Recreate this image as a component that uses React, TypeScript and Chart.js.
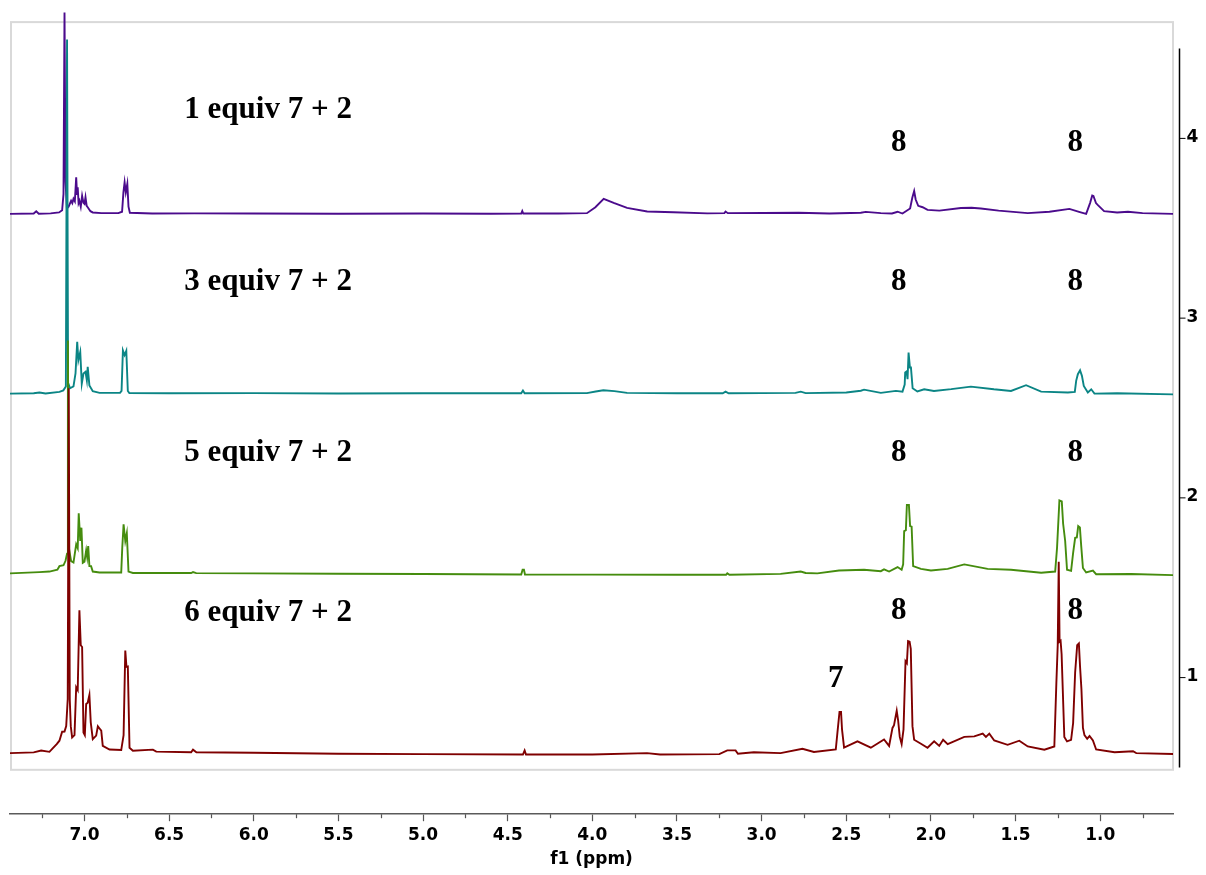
import { useEffect, useRef } from 'react';
import { Chart, registerables } from 'chart.js';

Chart.register(...registerables);

// ---- Data (ppm, intensity above each trace's own baseline) ----
const X_MIN = 0.57;
const X_MAX = 7.44;
const X_MAJOR_TICKS = [7.0, 6.5, 6.0, 5.5, 5.0, 4.5, 4.0, 3.5, 3.0, 2.5, 2.0, 1.5, 1.0];
const X_MINOR_TICKS = [7.25, 6.75, 6.25, 5.75, 5.25, 4.75, 4.25, 3.75, 3.25, 2.75, 2.25, 1.75, 1.25, 0.75];
const Y_MIN = 0.24;
const Y_MAX = 4.77;
const RIGHT_TICKS = [1, 2, 3, 4];
const RIGHT_AXIS_RANGE = [0.5, 4.5];
const FRAME_RANGE = [0.487, 4.647];

const SERIES_NAMES = ['6 equiv 7 + 2', '5 equiv 7 + 2', '3 equiv 7 + 2', '1 equiv 7 + 2'];
const SERIES_OFFSETS = [0.58, 1.57, 2.58, 3.58];

const SPEC_6EQ: [number, number][] = [
  [7.44, 0.0], [7.3, 0.004], [7.256, 0.014], [7.207, 0.007], [7.188, 0.026], [7.164, 0.05],
  [7.148, 0.069], [7.132, 0.119], [7.118, 0.12], [7.108, 0.15], [7.099, 0.3], [7.093, 2.03],
  [7.087, 0.3], [7.081, 0.15], [7.073, 0.087], [7.059, 0.1], [7.049, 0.366], [7.04, 0.35],
  [7.03, 0.795], [7.022, 0.6], [7.014, 0.59], [7.006, 0.115], [6.998, 0.1], [6.99, 0.273],
  [6.981, 0.28], [6.971, 0.323], [6.963, 0.171], [6.951, 0.078], [6.931, 0.097], [6.921, 0.149],
  [6.911, 0.137], [6.901, 0.125], [6.892, 0.04], [6.852, 0.02], [6.783, 0.017], [6.769, 0.1],
  [6.759, 0.571], [6.752, 0.48], [6.744, 0.482], [6.734, 0.03], [6.714, 0.013], [6.596, 0.019],
  [6.576, 0.008], [6.37, 0.005], [6.359, 0.019], [6.339, 0.005], [6.0, 0.002], [5.5, -0.004],
  [5.0, -0.006], [4.41, -0.008], [4.4, 0.015], [4.392, -0.008], [4.0, -0.008], [3.677, 0.0],
  [3.6, -0.008], [3.25, -0.006], [3.203, 0.015], [3.154, 0.015], [3.14, -0.004], [3.046, 0.005],
  [2.888, 0.0], [2.759, 0.024], [2.691, 0.006], [2.562, 0.02], [2.552, 0.117], [2.54, 0.229],
  [2.531, 0.229], [2.525, 0.13], [2.513, 0.03], [2.434, 0.065], [2.355, 0.03], [2.277, 0.076],
  [2.247, 0.04], [2.227, 0.14], [2.218, 0.155], [2.202, 0.235], [2.194, 0.184], [2.184, 0.09],
  [2.173, 0.05], [2.162, 0.13], [2.15, 0.511], [2.142, 0.5], [2.135, 0.623], [2.126, 0.62],
  [2.119, 0.58], [2.109, 0.15], [2.099, 0.074], [2.059, 0.052], [2.02, 0.03], [1.981, 0.065],
  [1.951, 0.04], [1.928, 0.074], [1.901, 0.05], [1.803, 0.09], [1.744, 0.093], [1.694, 0.108],
  [1.675, 0.09], [1.655, 0.108], [1.626, 0.07], [1.547, 0.046], [1.478, 0.069], [1.428, 0.037],
  [1.33, 0.019], [1.271, 0.037], [1.259, 0.39], [1.251, 0.6], [1.245, 1.065], [1.24, 0.62],
  [1.234, 0.625], [1.228, 0.55], [1.212, 0.09], [1.196, 0.065], [1.172, 0.074], [1.16, 0.167],
  [1.148, 0.45], [1.136, 0.6], [1.126, 0.61], [1.119, 0.48], [1.111, 0.358], [1.102, 0.14],
  [1.093, 0.1], [1.077, 0.08], [1.063, 0.095], [1.043, 0.07], [1.024, 0.02], [0.915, 0.005],
  [0.806, 0.01], [0.787, 0.0], [0.57, -0.005],
];

const SPEC_5EQ: [number, number][] = [
  [7.44, 0.01], [7.266, 0.017], [7.207, 0.02], [7.16, 0.03], [7.148, 0.05], [7.124, 0.055],
  [7.112, 0.08], [7.103, 0.12], [7.098, 1.305], [7.092, 0.15], [7.079, 0.078], [7.065, 0.07],
  [7.049, 0.171], [7.04, 0.15], [7.034, 0.344], [7.025, 0.19], [7.018, 0.264], [7.01, 0.069],
  [7.0, 0.075], [6.99, 0.138], [6.984, 0.1], [6.978, 0.162], [6.971, 0.05], [6.961, 0.05],
  [6.951, 0.02], [6.911, 0.015], [6.783, 0.015], [6.777, 0.15], [6.769, 0.283], [6.759, 0.19],
  [6.75, 0.233], [6.74, 0.02], [6.714, 0.012], [6.37, 0.012], [6.359, 0.017], [6.34, 0.011],
  [6.0, 0.01], [5.5, 0.008], [5.0, 0.006], [4.42, 0.004], [4.412, 0.03], [4.404, 0.03],
  [4.398, 0.004], [4.0, 0.003], [3.5, 0.002], [3.21, 0.002], [3.203, 0.01], [3.19, 0.002],
  [2.888, 0.007], [2.769, 0.02], [2.74, 0.012], [2.671, 0.01], [2.543, 0.026], [2.395, 0.03],
  [2.296, 0.022], [2.277, 0.032], [2.247, 0.02], [2.197, 0.045], [2.173, 0.03], [2.164, 0.06],
  [2.158, 0.245], [2.148, 0.25], [2.142, 0.39], [2.13, 0.39], [2.123, 0.273], [2.114, 0.27],
  [2.105, 0.05], [2.059, 0.035], [2.0, 0.026], [1.901, 0.035], [1.803, 0.06], [1.665, 0.035],
  [1.527, 0.03], [1.349, 0.013], [1.266, 0.02], [1.255, 0.152], [1.241, 0.416], [1.227, 0.41],
  [1.219, 0.286], [1.207, 0.19], [1.196, 0.03], [1.172, 0.024], [1.16, 0.124], [1.148, 0.208],
  [1.138, 0.21], [1.13, 0.273], [1.12, 0.265], [1.112, 0.16], [1.102, 0.04], [1.083, 0.015],
  [1.043, 0.025], [1.024, 0.005], [0.817, 0.006], [0.57, 0.0],
];

const SPEC_3EQ: [number, number][] = [
  [7.44, 0.0], [7.3, 0.002], [7.266, 0.006], [7.23, 0.001], [7.148, 0.01], [7.125, 0.018],
  [7.11, 0.04], [7.103, 1.97], [7.097, 0.06], [7.085, 0.03], [7.065, 0.04], [7.053, 0.112],
  [7.043, 0.288], [7.036, 0.186], [7.025, 0.232], [7.016, 0.056], [7.006, 0.112], [6.994, 0.121],
  [6.986, 0.074], [6.981, 0.149], [6.971, 0.046], [6.951, 0.013], [6.911, 0.004], [6.79, 0.004],
  [6.781, 0.015], [6.773, 0.24], [6.763, 0.214], [6.753, 0.238], [6.744, 0.015], [6.735, 0.003],
  [6.5, 0.002], [6.0, 0.003], [5.5, 0.001], [5.0, 0.002], [4.42, 0.002], [4.41, 0.017],
  [4.4, 0.002], [4.032, 0.003], [3.98, 0.012], [3.935, 0.019], [3.87, 0.014], [3.795, 0.004],
  [3.5, 0.002], [3.23, 0.002], [3.213, 0.011], [3.195, 0.002], [2.8, 0.004], [2.769, 0.011],
  [2.74, 0.003], [2.5, 0.006], [2.414, 0.016], [2.395, 0.022], [2.296, 0.004], [2.207, 0.015],
  [2.168, 0.011], [2.155, 0.05], [2.152, 0.117], [2.144, 0.123], [2.138, 0.08], [2.132, 0.229],
  [2.124, 0.145], [2.118, 0.145], [2.108, 0.03], [2.08, 0.012], [2.04, 0.024], [1.982, 0.015],
  [1.88, 0.025], [1.764, 0.039], [1.628, 0.024], [1.527, 0.015], [1.438, 0.047], [1.349, 0.011],
  [1.191, 0.006], [1.15, 0.01], [1.142, 0.071], [1.132, 0.108], [1.119, 0.13], [1.108, 0.099],
  [1.097, 0.043], [1.073, 0.006], [1.053, 0.024], [1.034, 0.0], [0.9, 0.002], [0.57, -0.004],
];

const SPEC_1EQ: [number, number][] = [
  [7.44, 0.0], [7.3, 0.002], [7.285, 0.014], [7.27, 0.001], [7.2, 0.003], [7.15, 0.008],
  [7.132, 0.02], [7.124, 0.11], [7.118, 1.12], [7.112, 0.18], [7.104, 0.03], [7.094, 0.04],
  [7.079, 0.073], [7.072, 0.06], [7.065, 0.084], [7.057, 0.07], [7.049, 0.204], [7.044, 0.11],
  [7.04, 0.148], [7.035, 0.06], [7.03, 0.073], [7.022, 0.04], [7.014, 0.1], [7.006, 0.061],
  [7.0, 0.055], [6.994, 0.093], [6.987, 0.045], [6.981, 0.037], [6.965, 0.015], [6.951, 0.008],
  [6.9, 0.004], [6.8, 0.004], [6.778, 0.012], [6.77, 0.12], [6.763, 0.176], [6.756, 0.12],
  [6.747, 0.167], [6.74, 0.04], [6.732, 0.006], [6.6, 0.002], [6.35, 0.003], [6.0, 0.002],
  [5.5, 0.001], [5.0, 0.002], [4.6, 0.001], [4.42, 0.002], [4.414, 0.016], [4.408, 0.002],
  [4.2, 0.002], [4.032, 0.004], [3.982, 0.037], [3.933, 0.084], [3.874, 0.061], [3.795, 0.033],
  [3.676, 0.013], [3.521, 0.009], [3.321, 0.003], [3.22, 0.004], [3.213, 0.013], [3.2, 0.004],
  [2.781, 0.006], [2.6, 0.002], [2.414, 0.006], [2.385, 0.011], [2.296, 0.004], [2.23, 0.002],
  [2.197, 0.012], [2.168, 0.002], [2.123, 0.03], [2.11, 0.09], [2.099, 0.127], [2.09, 0.08],
  [2.075, 0.045], [2.049, 0.037], [2.02, 0.022], [1.95, 0.018], [1.823, 0.033], [1.76, 0.034],
  [1.705, 0.03], [1.6, 0.018], [1.428, 0.004], [1.3, 0.012], [1.182, 0.028], [1.12, 0.01],
  [1.083, 0.0], [1.06, 0.06], [1.047, 0.102], [1.04, 0.1], [1.025, 0.06], [1.012, 0.047],
  [0.977, 0.015], [0.9, 0.008], [0.836, 0.012], [0.75, 0.004], [0.57, 0.0],
];

const SERIES_DATA = [SPEC_6EQ, SPEC_5EQ, SPEC_3EQ, SPEC_1EQ];
const SERIES_COLORS = ['#7f0000', '#458c0e', '#0b8585', '#4b0b8c'];

// Annotation texts (ppm, axis value)
const TITLE_LABEL_PPM = 6.41;
const TITLE_LABEL_Y = [1.357, 2.249, 3.203, 4.157];
const PEAK_LABELS: { text: string; ppm: number; y: number }[] = [
  { text: '8', ppm: 2.19, y: 3.972 },
  { text: '8', ppm: 1.148, y: 3.972 },
  { text: '8', ppm: 2.19, y: 3.203 },
  { text: '8', ppm: 1.148, y: 3.203 },
  { text: '8', ppm: 2.19, y: 2.249 },
  { text: '8', ppm: 1.148, y: 2.249 },
  { text: '8', ppm: 2.19, y: 1.368 },
  { text: '8', ppm: 1.148, y: 1.368 },
  { text: '7', ppm: 2.562, y: 0.994 },
];

const AXIS_FONT = '"DejaVu Sans", Verdana, sans-serif';
const LABEL_FONT = '"Liberation Serif", "Times New Roman", serif';

const framePlugin = {
  id: 'frame',
  beforeDatasetsDraw(chart: any) {
    const { ctx, chartArea, scales } = chart;
    const y = scales.y;
    const top = y.getPixelForValue(FRAME_RANGE[1]);
    const bottom = y.getPixelForValue(FRAME_RANGE[0]);
    ctx.save();
    ctx.strokeStyle = '#d9d9d9';
    ctx.lineWidth = 2;
    ctx.strokeRect(chartArea.left + 1, top, chartArea.right - chartArea.left - 1, bottom - top);
    ctx.restore();
  },
};

const annotationPlugin = {
  id: 'annotations',
  afterDatasetsDraw(chart: any) {
    const { ctx, scales } = chart;
    const { x, y } = scales;
    ctx.save();
    ctx.fillStyle = '#000';
    ctx.font = `bold 31px ${LABEL_FONT}`;
    ctx.textBaseline = 'middle';
    ctx.textAlign = 'left';
    SERIES_NAMES.forEach((name, i) => {
      ctx.fillText(name, x.getPixelForValue(TITLE_LABEL_PPM), y.getPixelForValue(TITLE_LABEL_Y[i]));
    });
    ctx.textAlign = 'center';
    PEAK_LABELS.forEach((l) => {
      ctx.fillText(l.text, x.getPixelForValue(l.ppm), y.getPixelForValue(l.y));
    });
    ctx.restore();
  },
};

const axesPlugin = {
  id: 'extraAxes',
  afterDraw(chart: any) {
    const { ctx, chartArea, scales } = chart;
    const { x, y } = scales;
    ctx.save();
    // minor ticks on the ppm axis
    ctx.strokeStyle = '#555';
    ctx.lineWidth = 1.2;
    X_MINOR_TICKS.forEach((v) => {
      const px = Math.round(x.getPixelForValue(v)) + 0.5;
      ctx.beginPath();
      ctx.moveTo(px, chartArea.bottom);
      ctx.lineTo(px, chartArea.bottom + 4);
      ctx.stroke();
    });
    // right intensity axis
    const ax = chartArea.right + 6.5;
    ctx.strokeStyle = '#000';
    ctx.lineWidth = 1.5;
    ctx.beginPath();
    ctx.moveTo(ax, y.getPixelForValue(RIGHT_AXIS_RANGE[1]));
    ctx.lineTo(ax, y.getPixelForValue(RIGHT_AXIS_RANGE[0]));
    ctx.stroke();
    ctx.fillStyle = '#000';
    ctx.font = `bold 17px ${AXIS_FONT}`;
    ctx.textAlign = 'left';
    ctx.textBaseline = 'middle';
    RIGHT_TICKS.forEach((v) => {
      const py = y.getPixelForValue(v);
      ctx.lineWidth = 1;
      ctx.beginPath();
      ctx.moveTo(ax, py);
      ctx.lineTo(ax + 6, py);
      ctx.stroke();
      ctx.fillText(String(v), ax + 7, py - 1);
    });
    ctx.restore();
  },
};

export default function App() {
  const ref = useRef<HTMLCanvasElement>(null);

  useEffect(() => {
    if (!ref.current) return;
    const datasets = SERIES_DATA.map((spec, i) => ({
      label: SERIES_NAMES[i],
      data: spec.map(([ppm, v]) => ({ x: ppm, y: v + SERIES_OFFSETS[i] })),
      borderColor: SERIES_COLORS[i],
      borderWidth: 1.9,
      pointRadius: 0,
      tension: 0,
      fill: false,
    }));
    const chart = new Chart(ref.current, {
      type: 'line',
      data: { datasets },
      options: {
        animation: false,
        responsive: false,
        devicePixelRatio: 1,
        events: [],
        layout: { padding: { left: 10, right: 33, top: 0, bottom: 0 } },
        plugins: { legend: { display: false }, tooltip: { enabled: false } },
        scales: {
          x: {
            type: 'linear',
            position: 'bottom',
            reverse: true,
            min: X_MIN,
            max: X_MAX,
            afterBuildTicks: (axis: any) => {
              axis.ticks = X_MAJOR_TICKS.map((v) => ({ value: v }));
            },
            ticks: {
              autoSkip: false,
              maxRotation: 0,
              padding: 4,
              color: '#000',
              font: { family: AXIS_FONT, size: 17, weight: 'bold' },
              callback: (v: any) => Number(v).toFixed(1),
            },
            grid: {
              drawOnChartArea: false,
              drawTicks: true,
              tickLength: 7,
              tickColor: '#555',
              tickWidth: 1.2,
            },
            border: { display: true, color: '#5a5a5a', width: 1.5 },
            title: {
              display: true,
              text: 'f1 (ppm)',
              color: '#000',
              font: { family: AXIS_FONT, size: 17, weight: 'bold' },
              padding: { top: 0, bottom: 5 },
            },
          },
          y: {
            type: 'linear',
            display: false,
            min: Y_MIN,
            max: Y_MAX,
          },
        },
      },
      plugins: [framePlugin, annotationPlugin, axesPlugin],
    } as any);
    return () => chart.destroy();
  }, []);

  return (
    <div style={{ position: 'fixed', left: 0, top: 0, width: 1206, height: 875, background: '#fff' }}>
      <canvas ref={ref} width={1206} height={875} style={{ width: 1206, height: 875, display: 'block' }} />
    </div>
  );
}
